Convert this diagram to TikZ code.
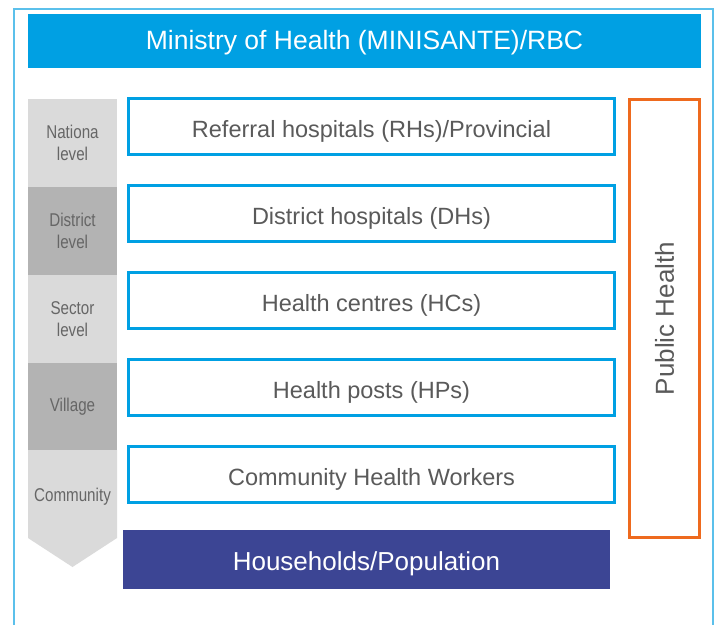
\documentclass[tikz,border=0pt]{standalone}
\usepackage{fontspec}
\setmainfont{Liberation Sans}
\newfontfamily\condfont[FakeStretch=0.82]{Liberation Sans}
\definecolor{mblue}{HTML}{00A0E3}
\definecolor{frameblue}{HTML}{5BC0EB}
\definecolor{morange}{HTML}{EE6A1E}
\definecolor{mpurple}{HTML}{3C4594}
\definecolor{glight}{HTML}{DADADA}
\definecolor{gdark}{HTML}{B3B3B3}
\definecolor{txtgray}{HTML}{5A5A5A}
\definecolor{lblgray}{HTML}{666666}
\tikzset{
  levelbox/.style={draw=mblue, line width=3pt, fill=white, minimum width=486pt, minimum height=56pt, inner sep=0pt, text height=21.8pt, text depth=0pt, text=txtgray, font=\fontsize{23.5}{28}\selectfont},
  cellbox/.style={minimum width=89pt, inner sep=0pt, text=lblgray, align=center, font=\condfont\fontsize{18.5}{22}\selectfont},
}
\begin{document}
\begin{tikzpicture}[x=1pt,y=-1pt]
\useasboundingbox (0,0) rectangle (719,624);
\fill[white] (0,0) rectangle (719,624);
% frame
\draw[frameblue, line width=2pt] (14,626) -- (14,9) -- (713,9) -- (713,626);
% banner
\node[fill=mblue, minimum width=673pt, minimum height=54pt, inner sep=0pt, text height=16pt, text depth=0pt, text=white, font=\fontsize{26.5}{30}\selectfont] (ministry) at (364.5,41) {Ministry of Health (MINISANTE)/RBC};
% grey column
\node[cellbox, fill=glight, minimum height=88pt] (national) at (72.5,143) {Nationa\\level};
\node[cellbox, fill=gdark, minimum height=88pt] (district) at (72.5,231) {District\\level};
\node[cellbox, fill=glight, minimum height=88pt] (sector) at (72.5,319) {Sector\\level};
\node[cellbox, fill=gdark, minimum height=87pt] (village) at (72.5,406.5) {Village};
\fill[glight] (28,450) -- (117,450) -- (117,538) -- (72.5,567) -- (28,538) -- cycle;
\node[cellbox, minimum height=30pt] (community) at (72.5,497) {Community};
% level boxes
\node[levelbox] (rh) at (371.5,126.5) {Referral hospitals (RHs)/Provincial};
\node[levelbox] (dh) at (371.5,213.5) {District hospitals (DHs)};
\node[levelbox] (hc) at (371.5,300.5) {Health centres (HCs)};
\node[levelbox] (hp) at (371.5,387.5) {Health posts (HPs)};
\node[levelbox] (chw) at (371.5,474.5) {Community Health Workers};
% households
\node[fill=mpurple, minimum width=487pt, minimum height=59pt, inner sep=0pt, text height=21.6pt, text depth=0pt, text=white, font=\fontsize{26}{30}\selectfont] (hh) at (366.5,559.5) {Households/Population};
% public health
\node[draw=morange, line width=3pt, minimum width=70pt, minimum height=438pt, inner sep=0pt] (ph) at (664.5,318.5) {};
\node[rotate=90, text=txtgray, font=\fontsize{26}{30}\selectfont] (phlabel) at (ph.center) {Public Health};
\end{tikzpicture}
\end{document}
